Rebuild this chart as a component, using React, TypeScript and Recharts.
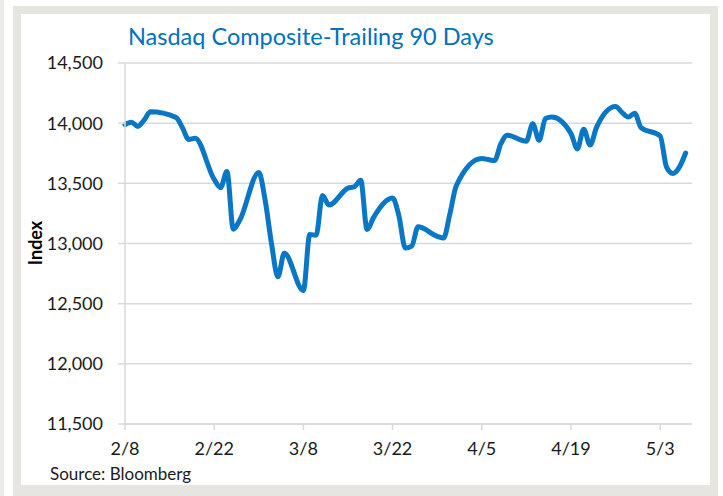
import { LineChart, Line, XAxis, YAxis, CartesianGrid } from "recharts";

// trading days, Feb 8 - May 7
const tradeDates = [
  "2/8", "2/9", "2/10", "2/11", "2/12", "2/16", "2/17", "2/18", "2/19",
  "2/22", "2/23", "2/24", "2/25", "2/26",
  "3/1", "3/2", "3/3", "3/4", "3/5", "3/8", "3/9", "3/10", "3/11", "3/12",
  "3/15", "3/16", "3/17", "3/18", "3/19", "3/22", "3/23", "3/24", "3/25", "3/26",
  "3/29", "3/30", "3/31", "4/1", "4/5", "4/6", "4/7", "4/8", "4/9",
  "4/12", "4/13", "4/14", "4/15", "4/16", "4/19", "4/20", "4/21", "4/22", "4/23",
  "4/26", "4/27", "4/28", "4/29", "4/30", "5/3", "5/4", "5/5", "5/6", "5/7",
];

const closes = [
  13988, 14008, 13973, 14026, 14095, 14048, 13965, 13865, 13874,
  13533, 13465, 13598, 13119, 13192,
  13589, 13359, 12998, 12723, 12920, 12609, 13074, 13069, 13399, 13320,
  13460, 13472, 13525, 13116, 13215, 13378, 13228, 12962, 12978, 13139,
  13060, 13045, 13247, 13480, 13706, 13698, 13689, 13829, 13900,
  13850, 13996, 13858, 14039, 14052, 13915, 13786, 13950, 13818, 13963,
  14139, 14090, 14051, 14083, 13963, 13895, 13634, 13582, 13633, 13752,
];

const xTickLabels = ["2/8", "2/22", "3/8", "3/22", "4/5", "4/19", "5/3"];
const yTicks = [11500, 12000, 12500, 13000, 13500, 14000, 14500];

const dayOf = (md: string) => {
  const [m, d] = md.split("/").map(Number);
  return Math.round((Date.UTC(2021, m - 1, d) - Date.UTC(2021, 1, 8)) / 86400000);
};

const data = tradeDates.map((d, i) => ({ day: dayOf(d), value: closes[i] }));
const xTicks = xTickLabels.map(dayOf);
const labelFor: Record<number, string> = {};
xTickLabels.forEach((l) => (labelFor[dayOf(l)] = l));

const FONT = "Lato, 'Open Sans', sans-serif";
const GRID = "#d9d9d9";
const BLUE = "#0a77c6";

export default function App() {
  return (
    <div style={{ position: "absolute", left: 0, top: 0, width: 723, height: 496, background: "#fff", fontFamily: FONT, overflow: "hidden" }}>
      <div style={{ position: "absolute", left: 0, top: 0, width: 4, height: 496, background: "#ecebe7" }} />
      <div style={{ position: "absolute", left: 13, top: 6, width: 705, height: 500, background: "#e6e5e0" }} />
      <div style={{ position: "absolute", left: 21, top: 14, width: 689, height: 471, background: "#fff" }} />

      <div style={{ position: "absolute", left: 0, top: 0 }}>
        <LineChart width={723} height={496} data={data} margin={{ top: 63, right: 31, bottom: 42, left: 45 }}>
          <CartesianGrid vertical={false} stroke={GRID} strokeWidth={1.5} />
          <XAxis
            dataKey="day"
            type="number"
            domain={[0, 89]}
            ticks={xTicks}
            tickFormatter={(v: number) => labelFor[v] ?? ""}
            stroke={GRID}
            strokeWidth={1.5}
            tickSize={6}
            tickMargin={12}
            height={30}
            tick={{ fill: "#1a1a1a", fontSize: 18, fontFamily: FONT }}
          />
          <YAxis
            type="number"
            domain={[11500, 14500]}
            ticks={yTicks}
            width={80}
            stroke={GRID}
            strokeWidth={1.5}
            tickSize={7}
            tickMargin={15}
            tickFormatter={(v: number) => v.toLocaleString("en-US")}
            tick={{ fill: "#1a1a1a", fontSize: 18, fontFamily: FONT }}
          />
          <Line
            type="monotone"
            dataKey="value"
            stroke={BLUE}
            strokeWidth={5}
            dot={false}
            strokeLinecap="round"
            strokeLinejoin="round"
            isAnimationActive={false}
          />
        </LineChart>
      </div>

      <div style={{ position: "absolute", left: 128, top: 22, fontSize: 23.5, color: "#0070c0", whiteSpace: "nowrap" }}>
        Nasdaq Composite-Trailing 90 Days
      </div>
      <div
        style={{
          position: "absolute",
          left: 35,
          top: 243,
          transform: "translate(-50%, -50%) rotate(-90deg)",
          fontSize: 18,
          fontWeight: 700,
          color: "#000",
          whiteSpace: "nowrap",
        }}
      >
        Index
      </div>
      <div style={{ position: "absolute", left: 50, top: 463, fontSize: 17, color: "#1a1a1a", whiteSpace: "nowrap" }}>
        Source: Bloomberg
      </div>
    </div>
  );
}
